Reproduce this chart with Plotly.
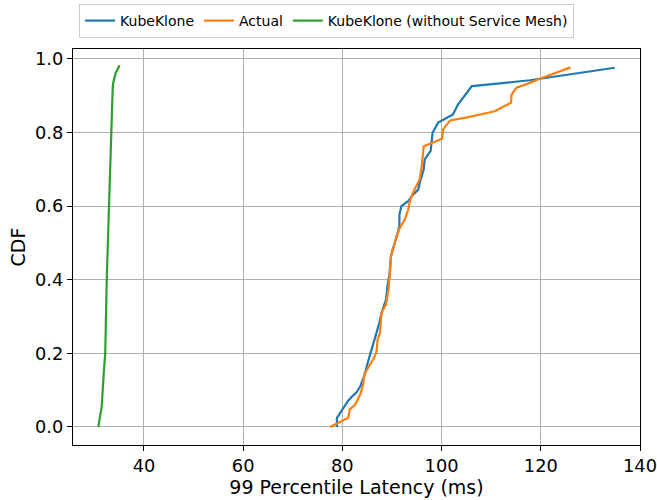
import plotly.graph_objects as go

# KubeKlone
blue_x = [78.9, 78.9, 79.5, 81.1, 81.9, 82.9, 83.6, 84.4, 85.1, 85.9, 86.6, 87.4, 87.9, 88.8,
          89.1, 89.5, 89.8, 90.1, 90.9, 91.5, 91.5, 91.9, 93.3, 94.3, 95.3, 95.6, 96.4, 96.6,
          97.8, 98.0, 98.2, 99.3, 102.3, 103.3, 104.7, 106.1, 117.8, 124.5, 134.9]
blue_y = [0.0, 0.025, 0.037, 0.07, 0.082, 0.095, 0.11, 0.138, 0.174, 0.21, 0.24, 0.28, 0.31, 0.346,
          0.383, 0.414, 0.464, 0.48, 0.514, 0.546, 0.577, 0.6, 0.614, 0.632, 0.645, 0.664, 0.70, 0.727,
          0.75, 0.78, 0.80, 0.827, 0.849, 0.876, 0.9, 0.926, 0.942, 0.955, 0.976]

# Actual
orange_x = [77.5, 81.2, 81.5, 82.6, 83.6, 84.2, 84.4, 85.6, 86.4, 86.9, 87.1, 87.6, 87.9, 88.8,
            89.3, 89.6, 89.8, 90.3, 90.9, 91.6, 92.6, 93.3, 93.6, 94.2, 95.0, 95.6, 96.0, 96.2,
            96.4, 100.1, 100.3, 101.7, 105.4, 110.7, 114.0, 114.1, 115.1, 117.8, 119.8, 126.0]
orange_y = [0.0, 0.025, 0.048, 0.061, 0.088, 0.115, 0.143, 0.17, 0.188, 0.206, 0.238, 0.256, 0.31, 0.333,
            0.374, 0.419, 0.464, 0.487, 0.518, 0.541, 0.564, 0.591, 0.614, 0.636, 0.659, 0.673, 0.709, 0.736,
            0.763, 0.783, 0.808, 0.833, 0.842, 0.858, 0.881, 0.903, 0.922, 0.935, 0.946, 0.977]

# KubeKlone (without Service Mesh)
green_x = [30.8, 31.2, 31.5, 31.9, 32.2, 32.5, 32.7, 32.9, 33.1, 33.4, 33.7, 33.8, 34.3, 35.1]
green_y = [0.0, 0.039, 0.057, 0.147, 0.20, 0.40, 0.49, 0.60, 0.664, 0.80, 0.92, 0.935, 0.962, 0.983]

names = ["KubeKlone", "Actual", "KubeKlone (without Service Mesh)"]
colors = ["#1f77b4", "#ff7f0e", "#2ca02c"]

x_ticks = [40, 60, 80, 100, 120, 140]
y_ticks = [0.0, 0.2, 0.4, 0.6, 0.8, 1.0]

fig = go.Figure()
for xs, ys, n, c in [(blue_x, blue_y, names[0], colors[0]),
                     (orange_x, orange_y, names[1], colors[1]),
                     (green_x, green_y, names[2], colors[2])]:
    fig.add_trace(go.Scatter(x=xs, y=ys, mode="lines", name=n,
                             line=dict(color=c, width=2.2)))

axis_common = dict(showgrid=True, gridcolor="#b0b0b0", gridwidth=1,
                   showline=True, linecolor="black", linewidth=1.2, mirror=True,
                   ticks="outside", ticklen=5, tickwidth=1, tickcolor="black",
                   zeroline=False, automargin=False,
                   tickfont=dict(size=17.8, color="black"))

fig.update_xaxes(range=[25.7, 140.0], tickvals=x_ticks,
                 title=dict(text="99 Percentile Latency (ms)", font=dict(size=19, color="black"), standoff=4),
                 **axis_common)
fig.update_yaxes(range=[-0.049, 1.027], tickvals=y_ticks, tickformat=".1f",
                 title=dict(text="CDF", font=dict(size=19, color="black"), standoff=4),
                 **axis_common)

fig.update_layout(
    width=657, height=500,
    margin=dict(l=73, r=17, t=49, b=55, autoexpand=False),
    paper_bgcolor="white", plot_bgcolor="white",
    font=dict(family="DejaVu Sans", color="black"),
    legend=dict(orientation="h", xref="container", yref="container",
                x=0.497, y=0.992, xanchor="center", yanchor="top",
                bordercolor="#cccccc", borderwidth=1, bgcolor="white",
                font=dict(size=14), itemwidth=30, tracegroupgap=0),
)

fig.write_html("out.html", config={"displayModeBar": False},
               post_script="document.body.style.margin='0';")
